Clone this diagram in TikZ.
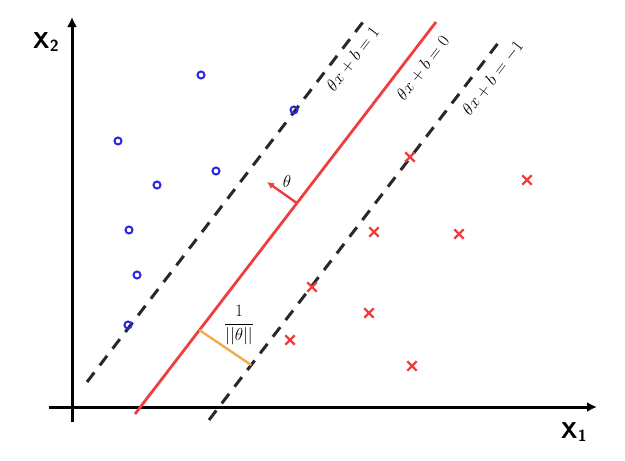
\documentclass[tikz,border=0pt]{standalone}
\usepackage{amsmath}
\usepackage{amssymb}
\usepackage{tikz}
\usetikzlibrary{calc, arrows.meta, shapes.misc}
\definecolor{svmred}{RGB}{238,62,62}
\definecolor{svmblue}{RGB}{40,40,225}
\definecolor{svmorange}{RGB}{242,172,72}
\definecolor{svmgray}{RGB}{40,40,40}

\begin{document}
\begin{tikzpicture}[x=1pt, y=-1pt,
    axis/.style = {line width=3pt, -{Latex[length=10pt, width=10pt]}},
    margin/.style = {draw=svmgray, line width=3pt, dash pattern=on 12pt off 9pt},
    boundary/.style = {draw=svmred, line width=2.8pt},
    posmark/.style = {draw=svmred, cross out, line width=2.4pt, minimum size=7pt, inner sep=0pt},
    negmark/.style = {draw=svmblue, circle, line width=2pt, minimum size=7pt, inner sep=0pt},
    eqn/.style = {rotate=52.5, font=\fontsize{16.5}{19}\selectfont},
    axlabel/.style = {font=\fontsize{23}{25}\selectfont\sffamily\bfseries}]
      \useasboundingbox (0,0) rectangle (625,461);
      % axes
      \coordinate (o1) at (49,407);
      \coordinate (x1end) at (597,407);
      \coordinate (o2) at (72,422);
      \coordinate (x2end) at (72,17);
      \draw [axis] (o1) -- (x1end);
      \draw [axis] (o2) -- (x2end);
      \node [axlabel] (x1) at (574,432) {X\textsubscript{1}};
      \node [axlabel] (x2) at (46,42) {X\textsubscript{2}};

      % hyperplane and margins
      \coordinate (up0) at (87,382);
      \coordinate (up1) at (363,22);
      \coordinate (mid0) at (135,414);
      \coordinate (mid1) at (436,22);
      \coordinate (lo0) at (209,420);
      \coordinate (lo1) at (502,38);
      \draw [margin] (up0) -- (up1);
      \draw [boundary] (mid0) -- (mid1);
      \draw [margin] (lo0) -- (lo1);
      \node [eqn] (equp) at (353,59) {$\theta x + b = 1$};
      \node [eqn] (eqmid) at (423,68) {$\theta x + b = 0$};
      \node [eqn] (eqlo) at (493,78) {$\theta x + b = -1$};

      % normal vector
      \coordinate (nbase) at ($ (mid0)!0.538!(mid1) $);
      \coordinate (ntip) at (267,182);
      \draw [svmred, line width=2.4pt, -{Latex[length=7pt, width=7pt]}] (nbase) -- (ntip);
      \node [font=\fontsize{17}{19}\selectfont] (theta) at (287,181) {$\theta$};

      % margin width
      \coordinate (w0) at ($ (mid0)!0.214!(mid1) $);
      \coordinate (w1) at ($ (lo0)!0.144!(lo1) $);
      \draw [svmorange, line width=2.4pt] (w0) -- (w1);
      \node [font=\fontsize{16}{18}\selectfont] (wlabel) at (239,325) {$\dfrac{1}{||\theta||}$};

      % samples
      \foreach \n/\p in {b1/{(201,75)}, b2/{(294,110)}, b3/{(118,141)}, b4/{(216,171)},
                         b5/{(157,185)}, b6/{(129,230)}, b7/{(137,275)}, b8/{(128,325)}}
               {
                 \node [negmark] (\n) at \p {};
               }
      \foreach \n/\p in {r1/{(410,157)}, r2/{(527,180)}, r3/{(374,232)}, r4/{(459,234)},
                         r5/{(312,287)}, r6/{(369,313)}, r7/{(290,340)}, r8/{(412,366)}}
               {
                 \node [posmark] (\n) at \p {};
               }
    \end{tikzpicture}
\end{document}
